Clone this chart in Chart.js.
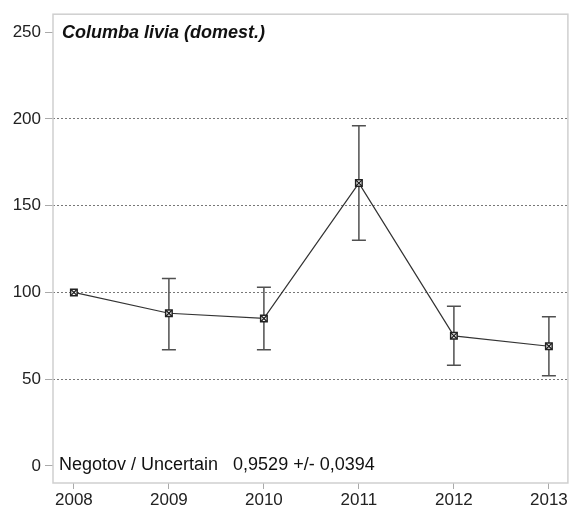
<!DOCTYPE html>
<html>
<head>
<meta charset="utf-8">
<script src="https://cdn.jsdelivr.net/npm/chart.js@4"></script>
<style>
    html, body { margin: 0; padding: 0; background: #fff; }
    #wrap { width: 574px; height: 513px; position: relative; }
</style>
</head>
<body>
<div id="wrap"><canvas id="chart"></canvas></div>
<script>
const years = [2008, 2009, 2010, 2011, 2012, 2013];
const index = [100, 88, 85, 163, 75, 69];
const lower = [100, 67, 67, 130, 58, 52];
const upper = [100, 108, 103, 196, 92, 86];
const yTicks = [0, 50, 100, 150, 200, 250];
const title = "Columba livia (domest.)";
const note = "Negotov / Uncertain   0,9529 +/- 0,0394";

const points = years.map((year, i) => ({ x: year, y: index[i] }));
const font = "Liberation Sans, Arial, sans-serif";

// error bars, plot box and the two text lines
const extras = {
    id: "extras",
    beforeDatasetsDraw(chart) {
        const { ctx, chartArea: area, scales: { x, y } } = chart;
        ctx.save();
        ctx.strokeStyle = "#cfcfcf";
        ctx.lineWidth = 1.5;
        ctx.strokeRect(area.left, area.top, area.right - area.left, area.bottom - area.top);

        ctx.strokeStyle = "#505050";
        ctx.lineWidth = 1.5;
        years.forEach((year, i) => {
            if (lower[i] === upper[i]) return;
            const px = x.getPixelForValue(year);
            const top = y.getPixelForValue(upper[i]);
            const bottom = y.getPixelForValue(lower[i]);
            ctx.beginPath();
            ctx.moveTo(px, top);
            ctx.lineTo(px, bottom);
            ctx.moveTo(px - 7, top);
            ctx.lineTo(px + 7, top);
            ctx.moveTo(px - 7, bottom);
            ctx.lineTo(px + 7, bottom);
            ctx.stroke();
        });

        ctx.fillStyle = "#111";
        ctx.textBaseline = "middle";
        ctx.font = `italic bold 18px ${font}`;
        ctx.fillText(title, area.left + 9, y.getPixelForValue(250) + 1);
        ctx.font = `18px ${font}`;
        ctx.fillText(note, area.left + 6, y.getPixelForValue(0) - 1);
        ctx.restore();
    }
};

new Chart(document.querySelector("#chart"), {
    type: "scatter",
    data: {
        datasets: [
            {
                data: points,
                showLine: false,
                pointStyle: "crossRot",
                pointRadius: 4.2,
                pointBorderColor: "#222",
                pointBorderWidth: 1.3
            },
            {
                data: points,
                showLine: true,
                borderColor: "#333",
                borderWidth: 1.2,
                pointStyle: "rect",
                pointRadius: 4.6,
                pointBackgroundColor: "#fff",
                pointBorderColor: "#222",
                pointBorderWidth: 1.5
            }
        ]
    },
    options: {
        responsive: true,
        maintainAspectRatio: false,
        animation: false,
        layout: { padding: { top: 13, right: 6, bottom: 4, left: 0 } },
        plugins: { legend: { display: false }, tooltip: { enabled: false } },
        scales: {
            x: {
                type: "linear",
                min: 2007.78,
                max: 2013.2,
                afterBuildTicks: (scale) => { scale.ticks = years.map((v) => ({ value: v })); },
                afterFit: (scale) => { scale.height = 26; },
                grid: { drawOnChartArea: false, tickLength: 6, tickColor: "#aaa", tickWidth: 1 },
                border: { display: false },
                ticks: { color: "#222", font: { family: font, size: 17 }, padding: 1, callback: (v) => String(v) }
            },
            y: {
                min: -9.8,
                max: 260.3,
                afterBuildTicks: (scale) => { scale.ticks = yTicks.map((v) => ({ value: v })); },
                afterFit: (scale) => { scale.width = 53; },
                grid: {
                    color: (c) => (c.tick && (c.tick.value === 0 || c.tick.value === 250) ? "rgba(0,0,0,0)" : "#777"),
                    lineWidth: 1,
                    tickLength: 8,
                    tickColor: "#aaa",
                    tickBorderDash: []
                },
                border: { display: false, dash: [2, 2] },
                ticks: { color: "#222", font: { family: font, size: 17 }, padding: 4 }
            }
        }
    },
    plugins: [extras]
});
</script>
</body>
</html>
